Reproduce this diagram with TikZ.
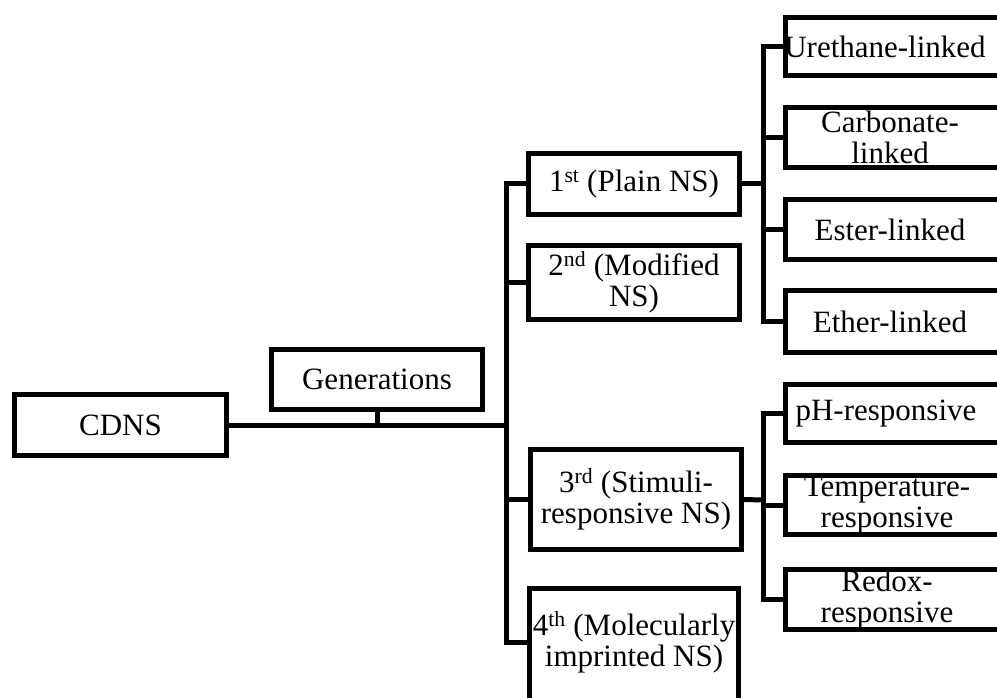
\documentclass[tikz,border=0pt]{standalone}
\usepackage{fontspec}
\setmainfont{Liberation Serif}
\begin{document}
\begin{tikzpicture}[x=1pt,y=-1pt,
  box/.style={draw, line width=5pt, inner sep=0pt, align=center,
    font=\fontsize{31}{31}\selectfont},
  rbox/.style={box, minimum width=218pt},
  conn/.style={line width=5pt}]
\path[use as bounding box, clip] (0,0) rectangle (997,698);
% main nodes
\node[box, minimum width=212pt, minimum height=61pt] (cdns) at (120.5,425) {CDNS};
\node[box, minimum width=211pt, minimum height=60pt] (gen) at (377,379.5) {Generations};
\node[box, minimum width=211pt, minimum height=61pt] (g1) at (634,184) {1\textsuperscript{st} (Plain NS)};
\node[box, minimum width=211pt, minimum height=74pt] (g2) at (634,282.5) {2\textsuperscript{nd} (Modified\\NS)};
\node[box, minimum width=211pt, minimum height=100pt] (g3) at (636,499.5) {3\textsuperscript{rd} (Stimuli-\\responsive NS)};
\node[box, minimum width=209pt, minimum height=115pt] (g4) at (634,646) {};
\node[font=\fontsize{31}{31}\selectfont, align=center, inner sep=0pt] (g4t) at (634,642) {4\textsuperscript{th} (Molecularly\\imprinted NS)};
% right nodes
\node[rbox, minimum height=58pt] (ure) at (894.5,46.5) {};
\node[font=\fontsize{31}{31}\selectfont, inner sep=0pt] (uret) at (885,46.5) {Urethane-linked};
\node[rbox, minimum height=60pt] (carb) at (894.5,137.5) {};
\node[font=\fontsize{31}{31}\selectfont, align=center, inner sep=0pt] (carbt) at (890,137.5) {Carbonate-\\linked};
\node[rbox, minimum height=60pt] (est) at (894.5,229.5) {};
\node[font=\fontsize{31}{31}\selectfont, inner sep=0pt] (estt) at (890,229.5) {Ester-linked};
\node[rbox, minimum height=62pt] (eth) at (894.5,321.5) {};
\node[font=\fontsize{31}{31}\selectfont, inner sep=0pt] (etht) at (890,321.5) {Ether-linked};
\node[rbox, minimum height=58pt] (ph) at (894.5,413.5) {};
\node[font=\fontsize{31}{31}\selectfont, inner sep=0pt] (pht) at (886,413.5) {pH-responsive};
\node[rbox, minimum height=59pt] (temp) at (894.5,505) {};
\node[font=\fontsize{31}{31}\selectfont, align=center, inner sep=0pt] (tempt) at (887,505) {Temperature-\\responsive};
\node[rbox, minimum height=60pt] (redox) at (894.5,599.5) {};
\node[font=\fontsize{31}{31}\selectfont, align=center, inner sep=0pt] (redoxt) at (887,599.5) {Redox-\\responsive};
% coordinates of the trunks
\coordinate (trunk) at (506,425);
\coordinate (b4) at (506,642);
\coordinate (ra) at (763,184);
\coordinate (rb) at (763,500);
% connectors
\draw[conn] (cdns.east) -- (trunk);
\draw[conn] (gen.south) -- (gen.south |- trunk);
\draw[conn] (g1.west) -- (g1.west -| trunk) -- (b4) -- (b4 -| g4.west);
\draw[conn] (g2.west) -- (g2.west -| trunk);
\draw[conn] (g3.west) -- (g3.west -| trunk);
\draw[conn] (g1.east) -- (ra);
\draw[conn] (ure.west) -- (ure.west -| ra) -- (eth.west -| ra) -- (eth.west);
\draw[conn] (carb.west) -- (carb.west -| ra);
\draw[conn] (est.west) -- (est.west -| ra);
\draw[conn] (g3.east) -- (rb);
\draw[conn] (ph.west) -- (ph.west -| rb) -- (redox.west -| rb) -- (redox.west);
\draw[conn] (temp.west) -- (temp.west -| rb);
\end{tikzpicture}
\end{document}
